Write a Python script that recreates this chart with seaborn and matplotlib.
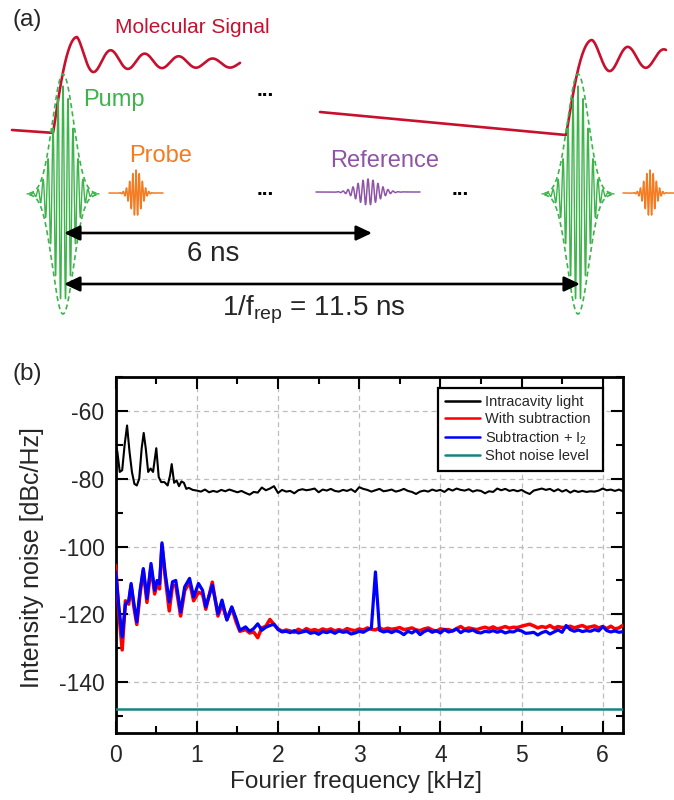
import numpy as np
import pandas as pd
import matplotlib
matplotlib.use("Agg")
import matplotlib.pyplot as plt
from matplotlib.ticker import MultipleLocator
import seaborn as sns

# ---------------- Panel (b): values ----------------
series_names = ["Intracavity light", "With subtraction", "Subtraction + I$_2$", "Shot noise level"]
series_colors = ["#000000", "#ff0000", "#0000ff", "#17857f"]

freq_intracavity_low = [0.0, 0.02, 0.05, 0.08, 0.11, 0.14, 0.17, 0.2, 0.23, 0.26,
                        0.29, 0.32, 0.345, 0.37, 0.4, 0.43, 0.46, 0.5, 0.53, 0.56,
                        0.6, 0.64, 0.67, 0.69, 0.72, 0.75, 0.78, 0.81, 0.84, 0.87,
                        0.9, 0.95]
noise_intracavity_low = [-70.5, -72.0, -78.0, -77.5, -70.0, -64.3, -72.0, -78.0, -81.5, -82.0,
                         -80.0, -71.0, -66.5, -71.0, -78.0, -77.0, -78.0, -71.0, -79.5, -81.0,
                         -81.0, -82.0, -79.0, -75.7, -81.2, -80.5, -82.2, -80.8, -81.2, -83.0,
                         -82.7, -83.3]
freq_flat_intracavity = np.round(np.arange(1.0, 6.2501, 0.05), 2)
noise_intracavity_flat = [
    -83.5, -83.8, -83.2, -84.0, -83.6, -83.9, -83.3, -83.7, -83.2, -83.6,
    -84.0, -83.6, -84.2, -84.7, -83.9, -84.1, -82.6, -83.4, -82.9, -82.2,
    -84.2, -83.3, -83.8, -83.6, -84.3, -83.4, -83.1, -83.4, -83.2, -82.9,
    -84.0, -83.2, -83.5, -83.0, -83.6, -83.8, -83.3, -83.6, -83.1, -83.9,
    -82.5, -83.0, -83.3, -83.8, -83.4, -83.0, -83.7, -83.5, -83.2, -83.8,
    -83.5, -83.0, -83.6, -83.9, -84.5, -83.8, -83.5, -83.8, -83.2, -83.6,
    -83.3, -83.9, -83.0, -83.5, -82.9, -83.3, -83.5, -83.1, -83.8, -83.4,
    -83.6, -84.3, -83.7, -83.9, -82.9, -83.4, -83.0, -83.6, -83.3, -83.7,
    -83.3, -84.0, -84.5, -83.5, -83.2, -82.9, -83.3, -83.0, -83.7, -83.1,
    -83.8, -83.3, -84.1, -83.5, -83.9, -83.6, -83.9, -83.7, -83.8, -83.5,
    -82.9, -83.4, -83.2, -83.6, -83.2, -83.7]

freq_subtraction_low = [0.0, 0.04, 0.08, 0.12, 0.16, 0.19, 0.225, 0.26, 0.3, 0.34,
                        0.385, 0.435, 0.48, 0.51, 0.54, 0.57, 0.61, 0.66, 0.7, 0.74,
                        0.8, 0.85, 0.91, 0.96, 1.02, 1.07, 1.11, 1.19, 1.26, 1.31,
                        1.37, 1.43, 1.48, 1.53]
noise_with_subtraction_low = [-105.5, -120.0, -130.5, -116.0, -117.0, -111.5, -118.0, -123.0, -114.0, -107.0,
                              -116.5, -106.0, -114.0, -111.0, -112.5, -99.5, -109.0, -119.0, -111.5, -111.5,
                              -120.5, -113.0, -110.5, -116.0, -113.5, -114.0, -118.5, -110.5, -120.5, -117.0,
                              -121.5, -118.0, -122.0, -125.0]
noise_subtraction_i2_low = [-107.5, -118.0, -126.7, -117.0, -116.0, -110.9, -117.0, -122.2, -113.0, -106.5,
                            -115.3, -105.0, -112.9, -110.0, -111.0, -98.9, -108.0, -116.3, -110.4, -110.0,
                            -119.3, -111.9, -109.4, -114.9, -110.9, -112.9, -117.8, -111.4, -119.8, -115.8,
                            -121.7, -117.8, -121.0, -124.7]
freq_flat_subtraction = np.round(np.arange(1.6, 6.2501, 0.05), 2)
noise_with_subtraction_flat = [
    -124.5, -125.5, -125.2, -126.9, -124.0, -123.5, -121.5, -123.0, -124.3, -125.0,
    -124.6, -124.9, -125.3, -124.4, -125.0, -124.2, -124.8, -124.5, -124.9, -124.3,
    -124.7, -124.3, -124.9, -124.5, -124.9, -124.2, -124.6, -124.8, -124.3, -124.6,
    -124.0, -124.4, -124.6, -124.0, -124.5, -124.1, -124.4, -124.2, -123.9, -124.5,
    -124.3, -124.0, -124.6, -124.8, -124.3, -124.0, -124.6, -125.0, -124.3, -124.5,
    -124.5, -124.9, -124.2, -123.6, -124.4, -124.0, -124.3, -124.5, -124.1, -123.8,
    -124.2, -123.7, -124.3, -124.0, -123.6, -124.1, -123.8, -123.9, -123.5, -123.2,
    -122.9, -123.4, -124.0, -123.6, -123.9, -123.3, -124.1, -123.6, -123.9, -123.8,
    -123.5, -124.0, -123.6, -123.3, -123.9, -123.7, -123.4, -124.0, -123.6, -124.2,
    -123.5, -124.3, -124.0, -123.2]
noise_subtraction_i2_flat = [
    -123.7, -125.0, -124.2, -122.8, -124.7, -123.8, -123.3, -122.9, -124.5, -125.2,
    -125.0, -125.4, -124.8, -125.5, -125.2, -124.9, -125.6, -125.3, -125.9, -125.1,
    -125.4, -125.0, -125.6, -124.9, -125.3, -125.1, -125.8, -125.5, -125.0, -125.3,
    -124.6, -124.0, -107.5, -124.7, -125.2, -124.9, -125.4, -124.8, -125.2, -126.0,
    -125.0, -125.5, -124.7, -126.0, -125.1, -124.6, -125.3, -124.8, -125.5, -124.5,
    -125.2, -124.9, -124.3, -125.4, -124.7, -125.0, -124.6, -125.3, -125.5, -125.0,
    -125.2, -124.8, -125.3, -124.9, -125.5, -125.1, -125.2, -124.6, -124.9, -125.6,
    -125.5, -125.3, -126.1, -125.4, -125.0, -125.8, -125.2, -124.6, -125.3, -123.3,
    -124.5, -125.0, -124.6, -125.1, -124.8, -125.0, -124.5, -124.9, -123.6, -124.8,
    -125.2, -124.9, -125.3, -125.1]

shot_noise_freq = [0.0, 6.25]
shot_noise_level = [-148.0, -148.0]

x_ticks = [0, 1, 2, 3, 4, 5, 6]
y_ticks = [-140, -120, -100, -80, -60]

# ---------------- Panel (a): schematic elements (pixel layout) ----------------
pump_centers = [63, 578]
probe_centers = [136, 650]
reference_centers = [368]
ellipsis_positions = [(265, 96), (265, 195), (460, 195)]

mol_color = "#c8102e"
pump_color = "#3cb44a"
probe_color = "#f47b20"
ref_color = "#8e55a6"

# ---------------- Style ----------------
sns.set_theme(style="ticks")
plt.rcParams.update({
    "font.family": ["Liberation Sans", "DejaVu Sans"],
    "axes.unicode_minus": False,
    "mathtext.fontset": "custom",
    "mathtext.rm": "Liberation Sans",
    "mathtext.it": "Liberation Sans:italic",
    "mathtext.bf": "Liberation Sans:bold",
})

fig = plt.figure(figsize=(6.74, 8.0), dpi=100)

# ---- panel (a) drawn in a full-figure pixel-coordinate axes ----
ax_a = fig.add_axes([0, 0, 1, 1])
ax_a.set_xlim(0, 674)
ax_a.set_ylim(800, 0)
ax_a.axis("off")


def mol_signal(x, x_lin0, y_lin0, slope, x_rise, x_peak, yc, yc_slope, T, A1, tau1, A2, tau2):
    y_lin = y_lin0 + slope * (x - x_lin0)
    y_peak = yc - (A1 + A2)
    y = np.empty_like(x)
    pre = x < x_peak
    t = np.clip((x[pre] - x_rise) / (x_peak - x_rise), 0, 1)
    u = t ** 0.6
    s = u * u * (3 - 2 * u)
    y[pre] = y_lin[pre] + (y_peak - y_lin[pre]) * s
    d = x[~pre] - x_peak
    A = A1 * np.exp(-d / tau1) + A2 * np.exp(-d / tau2)
    y[~pre] = yc + yc_slope * d - A * np.cos(2 * np.pi * d / T)
    return y


xs1 = np.linspace(12, 240, 1500)
ax_a.plot(xs1, mol_signal(xs1, 12, 130, 0.07, 53, 77, 59, 0.03, 34, 12, 140, 10, 10),
          color=mol_color, lw=1.9, solid_capstyle="round")
xs2 = np.linspace(320, 666, 2000)
ax_a.plot(xs2, mol_signal(xs2, 320, 112, 0.0935, 566, 592, 58, 0.0, 36, 14, 150, 4, 10),
          color=mol_color, lw=1.9, solid_capstyle="round")


def pulse(c, A, sigma, period, half_width, color, lw, base, env_amp=None, env_sigma=None):
    x = np.linspace(c - half_width, c + half_width, 4000)
    env = A * np.exp(-0.5 * ((x - c) / sigma) ** 2)
    y = base - env * np.cos(2 * np.pi * (x - c) / period)
    ax_a.plot(x, y, color=color, lw=lw)
    if env_amp is not None:
        xe = np.linspace(c - 3.2 * env_sigma, c + 3.2 * env_sigma, 400)
        e = env_amp * np.exp(-0.5 * ((xe - c) / env_sigma) ** 2)
        ax_a.plot(xe, base - e, color=color, lw=1.2, ls=(0, (3, 2)))
        ax_a.plot(xe, base + e, color=color, lw=1.2, ls=(0, (3, 2)))


for c in pump_centers:
    pulse(c, 108, 10, 5, 36, pump_color, 1.0, 194, env_amp=120, env_sigma=10.5)
for c in probe_centers:
    pulse(c, 23, 5.5, 3.2, 27, probe_color, 1.1, 193)
for c in reference_centers:
    pulse(c, 13, 11, 5, 52, ref_color, 1.1, 192)

for (x, y) in ellipsis_positions:
    ax_a.text(x, y, "...", ha="center", va="baseline", fontsize=15, fontweight="bold", color="black")

arrow_kw = dict(arrowstyle="<|-|>,head_length=0.95,head_width=0.45", color="black", lw=1.9,
                shrinkA=0, shrinkB=0, mutation_scale=10)
ax_a.annotate("", xy=(64, 233), xytext=(372, 233), arrowprops=arrow_kw)
ax_a.annotate("", xy=(64, 284), xytext=(580, 284), arrowprops=arrow_kw)

ax_a.text(13, 26, "(a)", fontsize=17.5, va="baseline", ha="left")
ax_a.text(115, 33, "Molecular Signal", fontsize=15, color=mol_color, va="baseline", ha="left")
ax_a.text(83, 106, "Pump", fontsize=17, color=pump_color, va="baseline", ha="left")
ax_a.text(129, 162, "Probe", fontsize=17, color=probe_color, va="baseline", ha="left")
ax_a.text(330, 167, "Reference", fontsize=17, color=ref_color, va="baseline", ha="left")
ax_a.text(187, 261, "6 ns", fontsize=20, va="baseline", ha="left")
ax_a.text(222, 315, "1/f$_{\\mathrm{rep}}$ = 11.5 ns", fontsize=20, va="baseline", ha="left")
ax_a.text(13, 380, "(b)", fontsize=17.5, va="baseline", ha="left")

# ---- panel (b) ----
ax_b = fig.add_axes([115.7 / 674, 1 - 733 / 800, (623 - 115.7) / 674, (733 - 377) / 800])

df_black = pd.DataFrame({"freq": list(freq_intracavity_low) + list(freq_flat_intracavity),
                         "noise": noise_intracavity_low + noise_intracavity_flat})
df_red = pd.DataFrame({"freq": list(freq_subtraction_low) + list(freq_flat_subtraction),
                       "noise": noise_with_subtraction_low + noise_with_subtraction_flat})
df_blue = pd.DataFrame({"freq": list(freq_subtraction_low) + list(freq_flat_subtraction),
                        "noise": noise_subtraction_i2_low + noise_subtraction_i2_flat})
df_shot = pd.DataFrame({"freq": shot_noise_freq, "noise": shot_noise_level})

line_kw = dict(estimator=None, sort=False, solid_joinstyle="round", solid_capstyle="round")
sns.lineplot(data=df_black, x="freq", y="noise", ax=ax_b, color=series_colors[0], lw=1.5,
             label=series_names[0], zorder=3, **line_kw)
sns.lineplot(data=df_red, x="freq", y="noise", ax=ax_b, color=series_colors[1], lw=2.5,
             label=series_names[1], zorder=3, **line_kw)
sns.lineplot(data=df_blue, x="freq", y="noise", ax=ax_b, color=series_colors[2], lw=2.3,
             label=series_names[2], zorder=4, **line_kw)
sns.lineplot(data=df_shot, x="freq", y="noise", ax=ax_b, color=series_colors[3], lw=1.8,
             label=series_names[3], zorder=3, estimator=None, sort=False)

ax_b.set_xlim(0, 6.25)
ax_b.set_ylim(-155, -50)
ax_b.set_xticks(x_ticks)
ax_b.set_yticks(y_ticks)
ax_b.xaxis.set_minor_locator(MultipleLocator(0.5))
ax_b.yaxis.set_minor_locator(MultipleLocator(10))
ax_b.grid(True, which="major", ls=(0, (4, 3)), color="#bdbdbd", lw=0.9)
ax_b.set_axisbelow(True)
ax_b.tick_params(which="both", direction="in", top=True, right=True, width=1.5, color="black")
ax_b.tick_params(which="major", length=8.5, labelsize=16.5, pad=8)
ax_b.tick_params(which="minor", length=5)
for sp in ax_b.spines.values():
    sp.set_linewidth(2.0)
    sp.set_color("black")

ax_b.set_xlabel("Fourier frequency [kHz]", fontsize=17.5)
ax_b.set_ylabel("Intensity noise [dBc/Hz]", fontsize=18)
ax_b.xaxis.set_label_coords(0.4727, -0.1056)
ax_b.yaxis.set_label_coords(-0.1413, 0.493)

leg = ax_b.legend(loc="upper left", bbox_to_anchor=(0.635, 0.719, 0.3256, 0.25), mode="expand",
                  borderaxespad=0, fontsize=10.5, frameon=True, fancybox=False, framealpha=1,
                  edgecolor="black", handlelength=2.4, handletextpad=0.3, labelspacing=0.2,
                  borderpad=0.5)
leg.get_frame().set_linewidth(1.6)
for line in leg.get_lines():
    line.set_linewidth(1.8)

fig.savefig("out.png", dpi=100)
